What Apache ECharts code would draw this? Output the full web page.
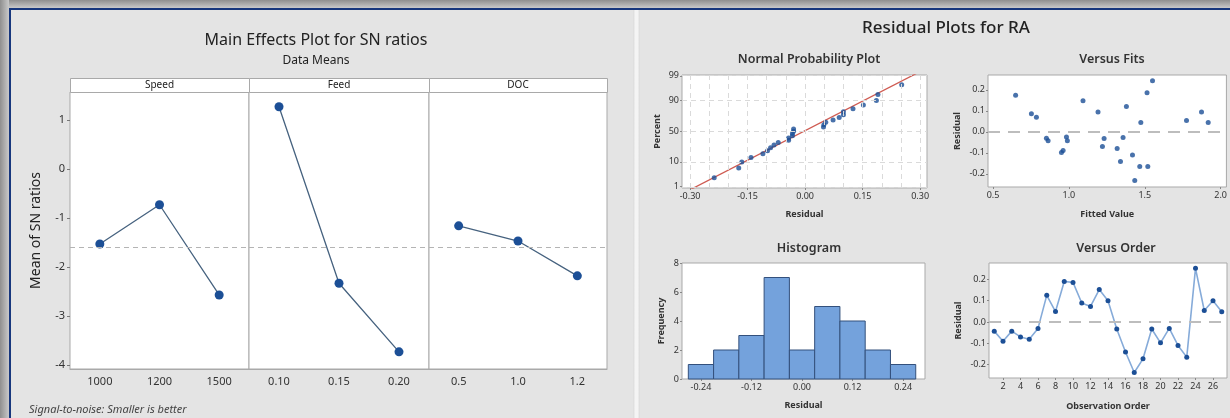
<!DOCTYPE html>
<html>
<head>
<meta charset="utf-8">
<script src="https://cdn.jsdelivr.net/npm/echarts@6/dist/echarts.min.js"></script>
<style>
html,body{margin:0;padding:0;width:1230px;height:418px;overflow:hidden;background:#e4e4e4;}
#topband{position:absolute;left:0;top:0;width:1230px;height:8px;background:linear-gradient(#8f8f8f,#c9c9c9);}
#leftband{position:absolute;left:0;top:0;width:9px;height:418px;background:linear-gradient(90deg,#8f8f8f,#c9c9c9);}
#topline{position:absolute;left:9px;top:8px;width:1221px;height:2px;background:#17377d;}
#leftline{position:absolute;left:9px;top:8px;width:2px;height:410px;background:#17377d;}
#sep{position:absolute;left:633px;top:10px;width:7px;height:408px;background:linear-gradient(90deg,#d9d9d9,#f4f4f4,#f4f4f4,#d9d9d9);}
#chart{position:absolute;left:0;top:0;width:1230px;height:418px;}
</style>
</head>
<body>
<div id="topband"></div><div id="leftband"></div><div id="topline"></div><div id="leftline"></div><div id="sep"></div>
<div id="chart"></div>
<script>
// ---------- Main effects data ----------
const speedLevels = ['1000', '1200', '1500'];
const speedSN = [-1.53, -0.73, -2.57];
const feedLevels = ['0.10', '0.15', '0.20'];
const feedSN = [1.27, -2.33, -3.73];
const docLevels = ['0.5', '1.0', '1.2'];
const docSN = [-1.16, -1.47, -2.18];
const snMean = -1.60;
const snTicks = [1, 0, -1, -2, -3, -4];
const factorNames = ['Speed', 'Feed', 'DOC'];

// ---------- Residual data ----------
const orderResiduals = [-0.043, -0.090, -0.043, -0.070, -0.081, -0.030, 0.125, 0.049, 0.190, 0.186,
  0.089, 0.073, 0.152, 0.100, -0.033, -0.141, -0.237, -0.173, -0.033, -0.098,
  -0.030, -0.110, -0.165, 0.252, 0.054, 0.100, 0.048];
const orderTicks = [2, 4, 6, 8, 10, 12, 14, 16, 18, 20, 22, 24, 26];
const fitsFitted = [0.649, 0.753, 0.786, 0.852, 0.863, 0.951, 0.962, 0.984, 0.990, 1.093,
  1.192, 1.221, 1.232, 1.318, 1.340, 1.357, 1.379, 1.419, 1.434, 1.467,
  1.474, 1.515, 1.520, 1.551, 1.775, 1.874, 1.918];
const fitsResiduals = [0.175, 0.086, 0.070, -0.030, -0.043, -0.098, -0.089, -0.025, -0.043, 0.148,
  0.095, -0.070, -0.032, -0.079, -0.141, -0.027, 0.121, -0.110, -0.232, -0.165,
  0.044, 0.186, -0.165, 0.243, 0.054, 0.095, 0.044];
const fitsXTicks = [0.5, 1.0, 1.5, 2.0];
const residTicks = [-0.2, -0.1, 0.0, 0.1, 0.2];
const histCenters = [-0.24, -0.18, -0.12, -0.06, 0.00, 0.06, 0.12, 0.18, 0.24];
const histCounts = [1, 2, 3, 7, 2, 5, 4, 2, 1];
const histTicks = [-0.24, -0.12, 0.00, 0.12, 0.24];
const freqTicks = [0, 2, 4, 6, 8];
const nppResidTicks = [-0.30, -0.15, 0.00, 0.15, 0.30];
const nppPercentTicks = [1, 10, 50, 90, 99];
const nppGridResid = [-0.30, -0.25, -0.20, -0.15, -0.10, -0.05, 0.00, 0.05, 0.10, 0.15, 0.20, 0.25, 0.30];
const nppFitMean = -0.003;
const nppFitSD = 0.121;

// inverse standard normal (Acklam)
function probit(p){
  const a=[-3.969683028665376e+01,2.209460984245205e+02,-2.759285104469687e+02,1.383577518672690e+02,-3.066479806614716e+01,2.506628277459239e+00];
  const b=[-5.447609879822406e+01,1.615858368580409e+02,-1.556989798598866e+02,6.680131188771972e+01,-1.328068155288572e+01];
  const c=[-7.784894002430293e-03,-3.223964580411365e-01,-2.400758277161838e+00,-2.549732539343734e+00,4.374664141464968e+00,2.938163982698783e+00];
  const d=[7.784695709041462e-03,3.224671290700398e-01,2.445134137142996e+00,3.754408661907416e+00];
  const pl=0.02425, ph=1-pl; let q,r;
  if(p<pl){q=Math.sqrt(-2*Math.log(p));return (((((c[0]*q+c[1])*q+c[2])*q+c[3])*q+c[4])*q+c[5])/((((d[0]*q+d[1])*q+d[2])*q+d[3])*q+1);}
  if(p<=ph){q=p-0.5;r=q*q;return (((((a[0]*r+a[1])*r+a[2])*r+a[3])*r+a[4])*r+a[5])*q/(((((b[0]*r+b[1])*r+b[2])*r+b[3])*r+b[4])*r+1);}
  q=Math.sqrt(-2*Math.log(1-p));return -(((((c[0]*q+c[1])*q+c[2])*q+c[3])*q+c[4])*q+c[5])/((((d[0]*q+d[1])*q+d[2])*q+d[3])*q+1);
}
const sortedRes = orderResiduals.slice().sort((x,y)=>x-y);
const nRes = sortedRes.length;
const nppPoints = sortedRes.map((v,i)=>[v, probit((i+1-0.3)/(nRes+0.4))]);
const pctZ = nppPercentTicks.map(p=>probit(p/100));
const zToPct = {}; pctZ.forEach((z,i)=>{zToPct[z.toFixed(6)] = nppPercentTicks[i];});
const fitLineData = [[nppFitMean + nppFitSD*-2.6, -2.6],[nppFitMean + nppFitSD*2.6, 2.6]];

const FONT = 'Noto Sans';
const TICKC = '#333';
const BORDER = '#a9a9a9';
const DOT = '#1c4f96';

const chart = echarts.init(document.getElementById('chart'), null, {renderer:'canvas'});

function gridBox(l,t,w,h){return {left:l, top:t, width:w, height:h, show:true, backgroundColor:'#fff', borderColor:BORDER, borderWidth:1};}

const meGrids = [[70,179],[249,180],[429,178]];
const grids = meGrids.map(g=>gridBox(g[0],92,g[1],277));
grids.push(gridBox(682,75,245,113));   // 3 NPP
grids.push(gridBox(988,75,239,112));   // 4 Fits
grids.push(gridBox(682,263,243,116));  // 5 Hist
grids.push(gridBox(989,263,238,115));  // 6 Order

const smallLbl = {fontFamily:FONT, fontSize:9, color:TICKC, margin:4};
const smallTick = {show:true, length:2, lineStyle:{color:'#888'}};
const noLine = {show:false, onZero:false};
const fmt1 = v=>v.toFixed(1);
const fmt2 = v=>v.toFixed(2);
const nameSmall = {fontFamily:FONT, fontSize:9, fontWeight:'bold', color:'#333'};

const xAxes = [
  ...[speedLevels, feedLevels, docLevels].map((cats,i)=>({
    type:'category', gridIndex:i, data:cats, boundaryGap:true,
    axisLine:{show:true, onZero:false, lineStyle:{color:BORDER}}, axisTick:{show:false},
    axisLabel:{fontFamily:FONT, fontSize:11, color:TICKC, margin:7}
  })),
  {type:'value', gridIndex:3, min:-0.321, max:0.318, axisLine:noLine, splitLine:{show:false}, axisTick:{...smallTick, customValues:nppResidTicks},
   axisLabel:{...smallLbl, customValues:nppResidTicks, formatter:fmt2}, name:'Residual', nameLocation:'middle', nameGap:22, nameTextStyle:nameSmall},
  {type:'value', gridIndex:4, min:0.467, max:2.038, axisLine:noLine, splitLine:{show:false}, axisTick:{...smallTick, customValues:fitsXTicks},
   axisLabel:{...smallLbl, customValues:fitsXTicks, formatter:fmt1}, name:'Fitted Value', nameLocation:'middle', nameGap:23, nameTextStyle:nameSmall},
  {type:'value', gridIndex:5, min:-0.285, max:0.292, axisLine:noLine, splitLine:{show:false}, axisTick:{...smallTick, customValues:histTicks},
   axisLabel:{...smallLbl, customValues:histTicks, formatter:fmt2}, name:'Residual', nameLocation:'middle', nameGap:22, nameTextStyle:nameSmall},
  {type:'value', gridIndex:6, min:0.4, max:27.6, axisLine:noLine, splitLine:{show:false}, axisTick:{...smallTick, customValues:orderTicks},
   axisLabel:{...smallLbl, customValues:orderTicks}, name:'Observation Order', nameLocation:'middle', nameGap:24, nameTextStyle:nameSmall}
];

const yAxes = [
  {type:'value', gridIndex:0, min:-4.08, max:1.57, axisLine:noLine, splitLine:{show:false},
   axisTick:{show:true, length:3, lineStyle:{color:'#777'}, customValues:snTicks},
   axisLabel:{fontFamily:FONT, fontSize:11, color:TICKC, margin:5, customValues:snTicks},
   name:'Mean of SN ratios', nameLocation:'middle', nameGap:27, nameRotate:90,
   nameTextStyle:{fontFamily:FONT, fontSize:14, color:'#222'}},
  {type:'value', gridIndex:1, min:-4.08, max:1.57, show:false, axisLine:noLine},
  {type:'value', gridIndex:2, min:-4.08, max:1.57, show:false, axisLine:noLine},
  {type:'value', gridIndex:3, min:-2.38, max:2.36, axisLine:noLine, splitLine:{show:false}, axisTick:{...smallTick, customValues:pctZ},
   axisLabel:{...smallLbl, margin:3, customValues:pctZ, formatter:v=>{const k=v.toFixed(6); return zToPct[k]!==undefined?String(zToPct[k]):'';}},
   name:'Percent', nameLocation:'middle', nameGap:20, nameRotate:90, nameTextStyle:nameSmall},
  {type:'value', gridIndex:4, min:-0.263, max:0.271, axisLine:noLine, splitLine:{show:false}, axisTick:{...smallTick, customValues:residTicks},
   axisLabel:{...smallLbl, margin:3, customValues:residTicks, formatter:fmt1},
   name:'Residual', nameLocation:'middle', nameGap:26, nameRotate:90, nameTextStyle:nameSmall},
  {type:'value', gridIndex:5, min:0, max:8, axisLine:noLine, splitLine:{show:false}, axisTick:{...smallTick, customValues:freqTicks},
   axisLabel:{...smallLbl, margin:3, customValues:freqTicks},
   name:'Frequency', nameLocation:'middle', nameGap:16, nameRotate:90, nameTextStyle:nameSmall},
  {type:'value', gridIndex:6, min:-0.263, max:0.277, axisLine:noLine, splitLine:{show:false}, axisTick:{...smallTick, customValues:residTicks},
   axisLabel:{...smallLbl, margin:3, customValues:residTicks, formatter:fmt1},
   name:'Residual', nameLocation:'middle', nameGap:26, nameRotate:90, nameTextStyle:nameSmall}
];

const meanLine = {silent:true, symbol:'none', label:{show:false}, animation:false,
  lineStyle:{color:'#b4b4b4', type:[5,4], width:1}, data:[{yAxis:snMean}]};
const zeroLine = {silent:true, symbol:'none', label:{show:false}, animation:false,
  lineStyle:{color:'#bdbdbd', type:[12,8], width:2}, data:[{yAxis:0}]};

const series = [
  ...[speedSN, feedSN, docSN].map((vals,i)=>({
    type:'line', xAxisIndex:i, yAxisIndex:i, data:vals, symbol:'circle', symbolSize:9,
    itemStyle:{color:DOT}, lineStyle:{color:'#46627f', width:1.3}, markLine:meanLine, z:3
  })),
  {type:'scatter', xAxisIndex:3, yAxisIndex:3, data:nppPoints, symbolSize:5, itemStyle:{color:DOT}, z:4,
   markLine:{silent:true, symbol:'none', label:{show:false}, animation:false,
     lineStyle:{color:'#dadada', type:[5,4], width:1},
     data:[...nppGridResid.map(v=>({xAxis:v})), ...pctZ.map(z=>({yAxis:z}))]}},
  {type:'line', xAxisIndex:3, yAxisIndex:3, data:fitLineData, symbol:'none', lineStyle:{color:'#cf5b52', width:1.3}, z:3},
  {type:'scatter', xAxisIndex:4, yAxisIndex:4, data:fitsFitted.map((f,i)=>[f, fitsResiduals[i]]), symbolSize:5,
   itemStyle:{color:DOT}, markLine:zeroLine, z:4},
  {type:'custom', xAxisIndex:5, yAxisIndex:5, data:histCenters.map((c,i)=>[c, histCounts[i]]),
   renderItem:(params, api)=>{
     const half = (histCenters[1]-histCenters[0])/2;
     const x=api.value(0), n=api.value(1);
     const p0=api.coord([x-half,0]), p1=api.coord([x+half,n]);
     return {type:'rect', shape:{x:p0[0], y:p1[1], width:p1[0]-p0[0], height:p0[1]-p1[1]},
       style:{fill:'#74a2dc', stroke:'#33507c', lineWidth:1}};
   }},
  {type:'line', xAxisIndex:6, yAxisIndex:6, data:orderResiduals.map((v,i)=>[i+1, v]), symbol:'circle', symbolSize:5,
   itemStyle:{color:DOT}, lineStyle:{color:'#86abd9', width:1.6}, markLine:zeroLine, z:4}
];

const subT = {fontFamily:FONT, fontSize:12.5, fontWeight:600, color:'#333'};
const titles = [
  {text:'Main Effects Plot for SN ratios', left:311, top:27, textAlign:'center', textStyle:{fontFamily:FONT, fontSize:16, fontWeight:'normal', color:'#222'}},
  {text:'Data Means', left:311, top:50, textAlign:'center', textStyle:{fontFamily:FONT, fontSize:12, fontWeight:'normal', color:'#222'}},
  {text:'Residual Plots for RA', left:941, top:15, textAlign:'center', textStyle:{fontFamily:FONT, fontSize:17, fontWeight:500, color:'#222'}},
  {text:'Normal Probability Plot', left:804, top:48, textAlign:'center', textStyle:subT},
  {text:'Versus Fits', left:1107, top:48, textAlign:'center', textStyle:subT},
  {text:'Histogram', left:804, top:237, textAlign:'center', textStyle:subT},
  {text:'Versus Order', left:1111, top:237, textAlign:'center', textStyle:subT},
  {text:'Signal-to-noise: Smaller is better', left:24, top:399, textStyle:{fontFamily:FONT, fontSize:11, fontStyle:'italic', fontWeight:'normal', color:'#444'}}
];

const graphic = [];
meGrids.forEach((g,i)=>{
  graphic.push({type:'rect', left:g[0], top:78, shape:{width:g[1], height:14}, style:{fill:'#fff', stroke:BORDER, lineWidth:1}, z:1});
  graphic.push({type:'text', x:g[0]+g[1]/2, y:85, style:{text:factorNames[i], fill:'#222', font:'10px "Noto Sans"', textAlign:'center', textVerticalAlign:'middle'}, z:2});
});

chart.setOption({
  animation:false,
  backgroundColor:'transparent',
  title:titles,
  grid:grids,
  xAxis:xAxes,
  yAxis:yAxes,
  series:series,
  graphic:graphic
});
</script>
</body>
</html>
